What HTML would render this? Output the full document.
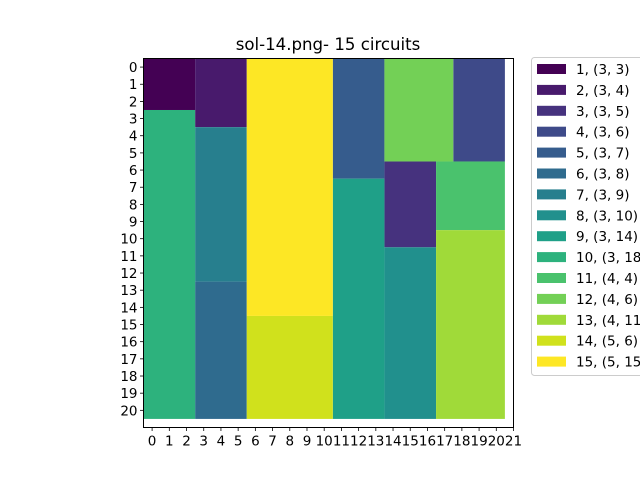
<!DOCTYPE html>
<html><head><meta charset="utf-8"><style>
body{margin:0;background:#fff;}
svg{display:block;font-family:"DejaVu Sans","Liberation Sans",sans-serif;}
</style></head><body>
<svg id="chart" width="640" height="480" viewBox="0 0 640 480">
<text x="328" y="50" font-size="16.6" text-anchor="middle" fill="#000">sol-14.png- 15 circuits</text>
<g id="cells"></g>
<rect x="143.5" y="58.5" width="370" height="369" fill="none" stroke="#000" stroke-width="1"/>
<g id="xt"></g>
<g id="yt"></g>
<g id="legend"></g>
</svg>
<script>
const labels = ["1, (3, 3)","2, (3, 4)","3, (3, 5)","4, (3, 6)","5, (3, 7)","6, (3, 8)","7, (3, 9)","8, (3, 10)","9, (3, 14)","10, (3, 18)","11, (4, 4)","12, (4, 6)","13, (4, 11)","14, (5, 6)","15, (5, 15)"];
const colors = ["#440154","#481a6c","#46327e","#3e4a89","#365c8d","#2f6b8e","#277f8e","#21908d","#1fa088","#2db27d","#4ac26d","#73d056","#a0da39","#d0e11c","#fde725"];
const posX = [0,3,14,18,11,3,3,14,11,0,17,14,17,6,6];
const posY = [0,0,6,0,0,13,4,11,7,3,6,0,10,15,0];
const widths = [3,3,3,3,3,3,3,3,3,3,4,4,4,5,5];
const heights = [3,4,5,6,7,8,9,10,14,18,4,6,11,6,15];
const xTicks = [0,1,2,3,4,5,6,7,8,9,10,11,12,13,14,15,16,17,18,19,20,21];
const yTicks = [0,1,2,3,4,5,6,7,8,9,10,11,12,13,14,15,16,17,18,19,20];

const NS="http://www.w3.org/2000/svg";
const L=143.5,R=513.5,T=58.5,B=427.5;
const xMin=-0.5,xMax=21,yMin=-0.5,yMax=21;
function sx(v){return L+(v-xMin)/(xMax-xMin)*(R-L);}
function sy(v){return T+(v-yMin)/(yMax-yMin)*(B-T);}
function mk(tag,attrs,parent){const e=document.createElementNS(NS,tag);for(const k in attrs)e.setAttribute(k,attrs[k]);parent.appendChild(e);return e;}

const cells=document.getElementById('cells');
for(let i=0;i<labels.length;i++){
  const x0=sx(posX[i]-0.5),x1=sx(posX[i]+widths[i]-0.5);
  const y0=sy(posY[i]-0.5),y1=sy(posY[i]+heights[i]-0.5);
  const r=mk('rect',{x:x0,y:y0,width:x1-x0,height:y1-y0,fill:colors[i]},cells);
  
  
}
const xt=document.getElementById('xt');
xTicks.forEach(t=>{
  const x=sx(t);
  const l=mk('line',{x1:x,x2:x,y1:B,y2:B+3.5,stroke:'#000','stroke-width':0.8},xt);
  
  
  const tx=mk('text',{x:x,y:B+18,'font-size':13.5,'text-anchor':'middle'},xt);
  tx.textContent=t;
  
  
});
const yt=document.getElementById('yt');
yTicks.forEach(t=>{
  const y=sy(t);
  const l=mk('line',{x1:L-3.5,x2:L,y1:y,y2:y,stroke:'#000','stroke-width':0.8},yt);
  
  
  const tx=mk('text',{x:L-6,y:y+5,'font-size':13.5,'text-anchor':'end'},yt);
  tx.textContent=t;
  
  
});
const lg=document.getElementById('legend');
const box=mk('rect',{x:531.5,y:57.5,width:120,height:318,rx:3,fill:'#fff',stroke:'#ccc','stroke-width':1},lg);


labels.forEach((lab,i)=>{
  const cy=69+i*20.9;
  const sw=mk('rect',{x:537,y:cy-5,width:29,height:10,fill:colors[i]},lg);
  
  
  const tx=mk('text',{x:576,y:cy+5,'font-size':13.5},lg);
  tx.textContent=lab;
  
  
});
</script>
</body></html>
